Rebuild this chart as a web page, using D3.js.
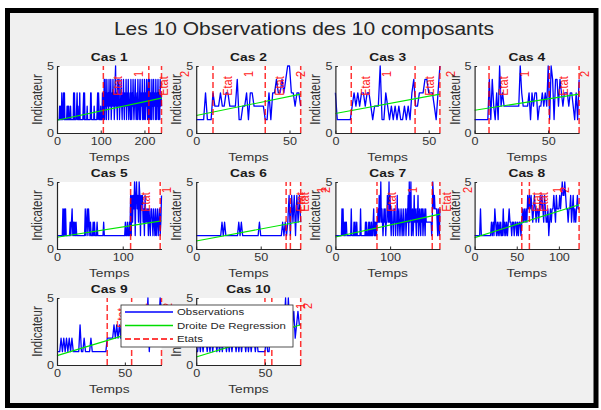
<!DOCTYPE html>
<html>
<head>
<meta charset="utf-8">
<script src="https://cdn.jsdelivr.net/npm/d3@7"></script>
<style>
body{margin:0;background:#fff}
svg{display:block}
text{font-family:"Liberation Sans",Arial,Helvetica,sans-serif}
</style>
</head>
<body>
<script>
// observations (one value per time step)
let cas1 = [
  1,1,1,1,1,1,2,1,2,1, 1,3,1,1,2,3,1,3,1,1, 1,1,1,2,1,2,1,2,1,1,
  1,2,1,1,1,1,1,1,3,1, 3,1,1,1,1,2,3,1,2,1, 1,1,3,1,1,1,1,1,1,1,
  2,3,1,3,1,1,1,1,1,2, 1,1,1,1,1,1,1,3,3,1, 1,1,1,1,1,2,1,1,1,1,
  1,1,2,3,1,3,2,1,1,1, 2,1,1,1,3,2,1,2,4,1, 4,2,3,1,4,2,2,3,1,4,
  2,3,2,4,1,2,3,2,4,2, 3,1,2,4,5,2,3,2,1,4, 2,3,4,1,2,2,3,4,2,1,
  3,2,4,2,1,3,2,2,4,1, 2,3,2,4,1,2,2,3,1,4, 2,1,3,2,4,2,1,2,3,4,
  2,1,2,3,1,4,2,2,1,3, 4,1,2,3,2,4,1,3,2,1, 4,2,1,3,2,4,2,1,3,4,
  1,2,4,1,3,2,1,4,2,3, 1,4,2,2,3,1,4,2,1,3, 2,4,1,3,2,1,4,2,3,2]
let cas2 = [
  1,1,1,1,1,3,1,1,1,3, 2,2,2,3,2,2,3,3,2,2, 2,2,4,1,1,2,2,3,1,3,
  3,2,2,2,2,2,2,1,1,3, 1,3,3,4,3,3,4,3,4,5, 5,3,3,2,3,3,2]
let cas3 = [
  3,1,1,1,1,1,1,1,1,2, 3,2,3,2,3,3,2,3,3,2, 1,2,2,2,5,1,1,3,2,1,
  2,1,2,1,2,1,1,2,1,2, 1,3,4,2,2,3,3,3,4,4, 3,3,3,2,1,3,5]
let cas4 = [
  1,1,1,1,1,1,1,1,1,1, 4,1,4,2,1,3,1,5,2,3, 2,2,2,2,2,2,2,2,2,2,
  2,5,3,2,2,2,2,3,1,3, 2,3,3,1,2,2,3,2,3,2, 5,1,5,4,1,4,4,2,4,3,
  2,3,3,3,2,3,3,2,1,3, 1,4]
let cas5 = [
  1,1,1,1,1,1,1,1,1,3, 1,3,1,3,1,1,1,1,1,1, 2,1,2,3,1,2,1,2,1,2,
  1,1,1,1,1,1,1,1,1,1, 1,1,1,3,1,2,3,1,3,2, 1,2,1,1,1,2,1,2,1,1,
  1,2,1,1,1,1,1,1,1,1, 1,2,1,1,1,1,1,1,1,1, 1,1,1,1,1,1,1,1,1,1,
  1,1,1,1,1,1,1,1,1,1, 1,1,1,1,2,1,1,2,1,1, 2,1,4,1,4,2,4,3,5,1,
  4,5,3,4,2,5,4,1,4,3, 4,2,3,1,4,2,3,2,3,1, 3,2,1,3,3,2,1,3,2,1,
  3,1,2,3,1,2,3,1,2,4]
let cas6 = [
  1,1,1,1,1,1,1,1,1,1, 1,1,1,1,1,1,1,1,1,1, 2,1,2,1,1,1,1,1,1,1,
  1,1,1,2,1,2,1,1,1,1, 1,1,1,1,1,1,1,1,1,2, 1,1,1,1,1,1,1,1,1,1,
  1,1,1,1,1,1,1,2,1,2, 1,2,4,1,4,2,4,1,4,2, 4,2]
let cas7 = [
  1,1,1,1,1,1,1,1,1,1, 1,1,3,1,3,1,1,2,1,2, 2,1,1,1,1,1,1,1,1,3,
  1,1,1,1,2,1,2,1,1,2, 1,1,1,1,1,1,3,1,1,1, 1,1,1,1,1,2,1,2,1,1,
  1,2,1,2,1,1,2,1,1,2, 3,1,2,1,2,1,2,2,3,2, 4,2,3,5,2,3,2,1,2,3,
  2,3,1,2,2,4,3,2,5,2, 4,2,1,3,2,2,1,3,2,3, 1,2,2,4,1,2,3,2,1,2,
  3,2,1,2,3,1,2,2,3,1, 2,3,2,4,1,5,2,3,5,1, 2,3,1,2,4,2,3,2,1,3,
  2,4,1,2,3,2,1,3,2,3, 1,2,3,2,1,3,2,2,2,2, 2,2,2,2,2,2,1,2,5,4,
  3,4,3,3,3,3,2,1,3,2, 1,3]
let cas8 = [
  1,1,1,1,1,1,1,3,1,1, 1,1,1,1,1,1,1,1,1,1, 2,1,2,1,3,2,1,2,1,2,
  1,2,1,1,3,1,2,1,2,1, 2,3,2,2,1,2,2,1,2,2, 1,2,1,2,2,1,2,3,2,3,
  2,3,2,4,3,4,3,4,3,2, 3,4,3,2,3,3,2,3,4,3, 4,3,2,4,3,2,2,3,1,2,
  3,2,3,3,4,3,2,4,3,3, 3,4,3,4,5,4,4,5,4,3, 3,2,3,3,4,2,3,4,2,3,
  2,3,4,3,3]
let cas9 = [
  1,1,1,2,1,2,1,2,1,2, 1,2,1,1,1,1,1,3,1,1, 2,1,1,1,1,2,1,1,1,1,
  1,1,1,1,1,1,1,2,2,2, 2,2,3,2,3,2,3,2,4,3, 3,4,2,3,2,3,3,4,3,2,
  3,4,3,2,3,4,3,5,1,3, 4,3,2,3,4,3,5,4]
let cas10 = [
  1,1,2,1,2,1,2,2,1,2, 1,2,1,2,2,1,2,1,2,1, 2,2,1,2,1,2,1,2,2,1,
  2,1,2,1,2,2,1,2,1,2, 1,2,2,1,2,1,1,1,1,1, 1,2,1,1,3,2,3,2,3,2,
  3,2,3,4,3,5,2,5,3,4, 3,4,2,3,4,3,3]

let series = [cas1,cas2,cas3,cas4,cas5,cas6,cas7,cas8,cas9,cas10]
let titles = ["Cas 1","Cas 2","Cas 3","Cas 4","Cas 5","Cas 6","Cas 7","Cas 8","Cas 9","Cas 10"]
let xTicks = [[0,100,200],[0,50],[0,50],[0,50],[0,100],[0,50],[0,100],[0,50,100],[0,50],[0,50]]
let yTicks = [0,5]
// state changes (red dashed lines), in time units
let etats = [[106,210,239],[9,37,56],[8.5,42.7,56],[9.8,50.7,71],[112,157],
             [69.7,73,81],[76,177,191],[56,65,124],[37,55,77],[50,55,76]]
// regression line ends
let regStart = [0.95,1.3,1.45,1.7,0.88,0.6,0.9,0.85,0.7,0.6]
let regEnd = [2.6,2.9,2.9,2.9,2.1,2.05,2.6,3.3,3.05,3.0]
let legendLabels = ["Observations","Droite De Regression","Etats"]
let mainTitle = "Les 10 Observations des 10 composants"

let width = 601
let height = 410
let stretch = 1.2 // the picture is stretched sideways, text too
let axLeft = [57,196.2,335.4,474.6]
let axTop = [66,182,298]
let axW = 104.5
let axH = 67
let ink = "#262626"
let dash = "6,3"
let blue = "#0000ff"
let green = "#00e600"
let red = "#ff0000"

let svg = d3.select("body").append("svg")
    .attr("width",width)
    .attr("height",height)

// figure frame
svg.append("rect")
    .attr("x",7.5).attr("y",10.5)
    .attr("width",588.5).attr("height",395)
    .attr("fill","#f0f0f0")
    .attr("stroke","#000")
    .attr("stroke-width",5)

function addText(parent, x, y, str, size, anchor, rot, color, weight){
    return parent.append("text")
        .attr("transform", "translate(" + x + "," + y + ") scale(" + stretch + ",1)" + (rot ? " rotate(" + rot + ")" : ""))
        .attr("text-anchor", anchor)
        .attr("font-size", size)
        .attr("fill", color || ink)
        .attr("font-weight", weight || "normal")
        .text(str)
}

addText(svg, 304, 35, mainTitle, 17.5, "middle")

series.forEach((data,k)=>{
    let col = k % 4
    let row = Math.floor(k / 4)
    let x0 = axLeft[col]
    let y0 = axTop[row]
    let n = data.length - 1

    let x = d3.scaleLinear().domain([0,n]).range([x0, x0 + axW])
    let y = d3.scaleLinear().domain([0,5]).range([y0 + axH, y0])

    let g = svg.append("g")

    g.append("rect")
        .attr("x",x0).attr("y",y0)
        .attr("width",axW).attr("height",axH)
        .attr("fill","#fff")

    // observations
    g.append("path")
        .datum(data)
        .attr("fill","none")
        .attr("stroke",blue)
        .attr("stroke-width",1.3)
        .attr("stroke-linejoin","round")
        .attr("d", d3.line().x((d,i)=>x(i)).y(d=>y(d)))

    // regression
    g.append("path")
        .datum([[0,regStart[k]],[n,regEnd[k]]])
        .attr("fill","none")
        .attr("stroke",green)
        .attr("stroke-width",1.1)
        .attr("d", d3.line().x(d=>x(d[0])).y(d=>y(d[1])))

    // states
    g.selectAll("line.etat")
        .data(etats[k])
        .enter()
        .append("line")
        .attr("class","etat")
        .attr("x1",d=>x(d)).attr("x2",d=>x(d))
        .attr("y1",y(0)).attr("y2",y(5))
        .attr("stroke",red)
        .attr("stroke-opacity",0.8)
        .attr("stroke-width",1.5)
        .attr("stroke-dasharray",dash)

    // axes
    let ax = g.append("g")
        .attr("transform","translate(0," + (y0 + axH) + ")")
        .call(d3.axisBottom(x).tickValues(xTicks[k]).tickFormat(d3.format("d"))
            .tickSize(-2.5).tickSizeOuter(0).tickPadding(5))
    let ay = g.append("g")
        .attr("transform","translate(" + x0 + ",0)")
        .call(d3.axisLeft(y).tickValues(yTicks).tickFormat(d3.format("d"))
            .tickSize(-2.5).tickSizeOuter(0).tickPadding(2.5))
    ;[ax,ay].forEach(a=>{
        a.attr("color",ink).attr("font-size",10.5)
        a.select(".domain").attr("stroke-width",1.2)
        a.selectAll("text").attr("transform","scale(" + stretch + ",1)").attr("fill","#333")
    })

    addText(g, x0 + axW/2, y0 - 5, titles[k], 11.5, "middle", 0, "#1a1a1a", "bold")
    addText(g, x0 + axW/2, y0 + axH + 28, "Temps", 11.5, "middle", 0, "#333")
    addText(g, x0 - 15, y0 + axH/2, "Indicateur", 11.5, "middle", -90, "#333")

    // state labels, all but the last line
    etats[k].slice(0,-1).forEach((e,j)=>{
        let px = x(e)
        addText(g, px + 19, y0 + 20, "Etat", 11, "middle", -90, "#ff1a1a")
        addText(g, px + 40, y0 + 8, String(j + 1), 11, "middle", -90, "#ff1a1a")
    })
})

// legend over Cas 9 / Cas 10
let lg = svg.append("g")
lg.append("rect")
    .attr("x",121).attr("y",305)
    .attr("width",172).attr("height",42)
    .attr("fill","#fff")
    .attr("stroke",ink)
    .attr("stroke-width",0.8)
let legendStyle = [{c:blue,d:null,w:1.5},{c:"#00dd00",d:null,w:1.5},{c:red,d:dash,w:1.5}]
legendLabels.forEach((l,i)=>{
    let ly = 312 + i*13.5
    lg.append("line")
        .attr("x1",125).attr("x2",173)
        .attr("y1",ly).attr("y2",ly)
        .attr("stroke",legendStyle[i].c)
        .attr("stroke-width",legendStyle[i].w)
        .attr("stroke-dasharray",legendStyle[i].d)
    addText(lg, 177, ly + 3.4, l, 9.5, "start", 0, ink)
})
</script>
</body>
</html>
